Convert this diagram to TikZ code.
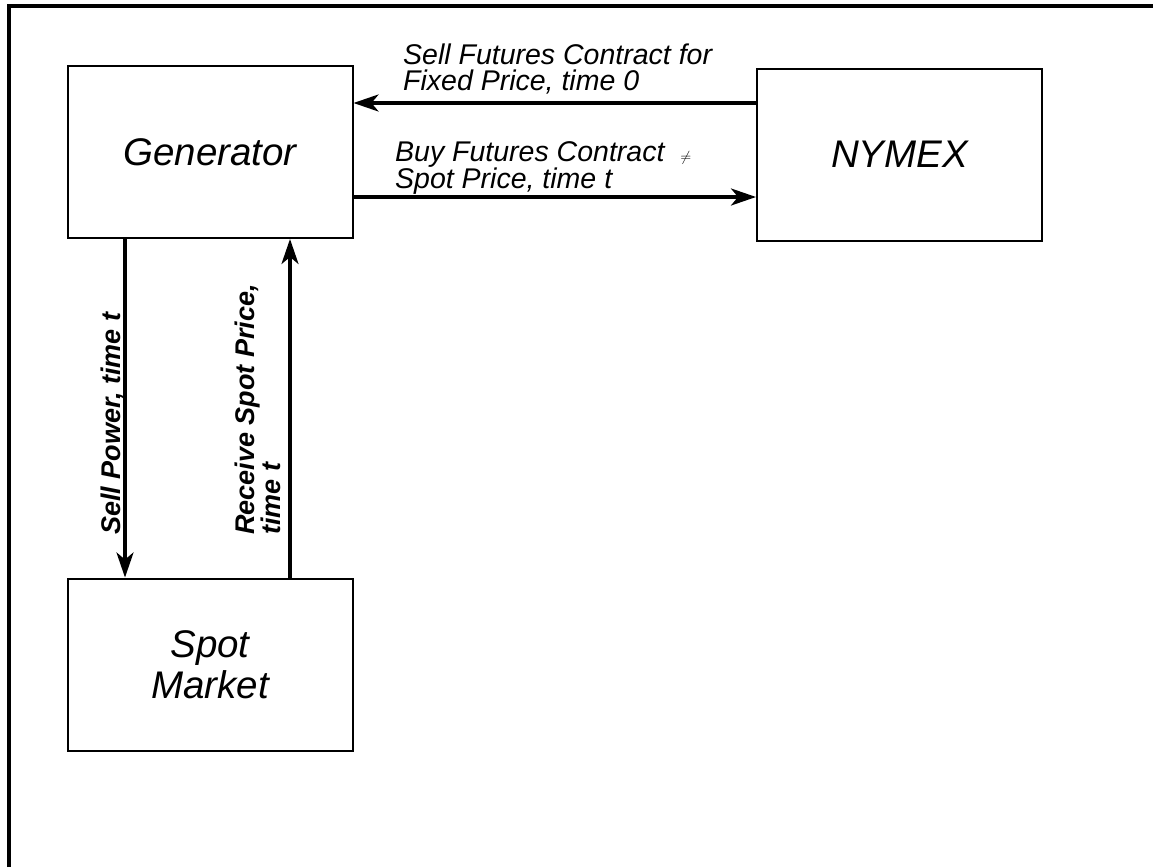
\documentclass[tikz,border=0pt]{standalone}
\usepackage{fontspec}
\setmainfont{Liberation Sans}
\usetikzlibrary{arrows.meta}
\begin{document}
\begin{tikzpicture}[x=1pt,y=-1pt,
  blk/.style={draw,line width=2pt,minimum width=285pt,minimum height=172pt,inner sep=0pt,align=center,font=\fontsize{38.5}{41}\selectfont\itshape},
  flow/.style={line width=3.3pt,-{Stealth[length=25pt,width=17pt,inset=7pt]}},
  lbl/.style={inner sep=0pt,align=left,anchor=north west,font=\fontsize{28.5}{26}\selectfont\itshape},
  vlbl/.style={inner sep=0pt,align=left,rotate=90,font=\fontsize{27}{24.5}\selectfont\bfseries\itshape}]
\useasboundingbox (0,0) rectangle (1153,867);
\draw[line width=4pt] (9,867)--(9,6)--(1153,6);

\node[blk] (gen) at (210,152) {Generator};
\node[blk] (nymex) at (899.5,154.5) {NYMEX};
\node[blk] (spot) at (210,664.5) {Spot\\Market};

\coordinate (sell) at ([yshift=51.5pt]nymex.west);
\coordinate (buy) at ([yshift=-45pt]gen.east);
\coordinate (pow) at ([xshift=-85pt]gen.south);
\coordinate (rcv) at ([xshift=80pt]spot.north);

\draw[flow] (sell)--(sell -| gen.east);
\draw[flow] (buy)--(buy -| nymex.west);
\draw[flow] (pow)--(pow |- spot.north);
\draw[flow] (rcv)--(rcv |- gen.south);

\node[lbl] (lsell) at (403,44) {Sell Futures Contract for\\Fixed Price, time 0};
\node[lbl] (lbuy) at (395,141) {Buy Futures Contract\hspace{16pt}{\fontsize{14}{14}\selectfont$\neq$}\\Spot Price, time t};
\node[vlbl,anchor=base west] (lpow) at (120,535) {Sell Power, time t};
\node[vlbl,anchor=north west] (lrcv) at (235,535) {Receive Spot Price,\\time t};
\end{tikzpicture}
\end{document}
